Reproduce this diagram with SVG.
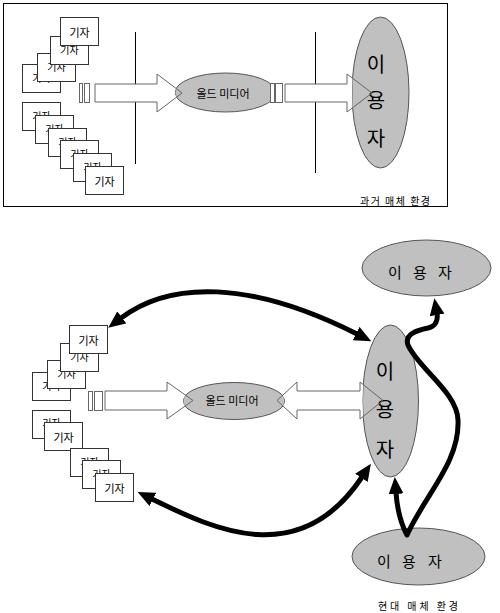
<svg xmlns="http://www.w3.org/2000/svg" width="500" height="613" viewBox="0 0 500 613">
<style>
.frame{fill:none;stroke:#000;stroke-width:1}
.card rect{fill:#fff;stroke:#333;stroke-width:1}
.card text{font-family:"Noto Sans CJK KR","Liberation Sans",sans-serif;font-size:11px;text-anchor:middle;dominant-baseline:central;fill:#000}
.card text.hid{font-size:10px}
.ell{fill:#c0c0c0;stroke:#555;stroke-width:1}
.lbl{font-family:"Noto Sans CJK KR","Liberation Sans",sans-serif;font-size:10px;fill:#000;text-anchor:middle;dominant-baseline:central}
.om{font-size:11px}
.big{font-size:20px}
.user{font-size:15px;text-anchor:start}
.bf{fill:#fff;stroke:none}
.bl{fill:none;stroke:#666;stroke-width:1}
.bar{fill:#fff;stroke:#666;stroke-width:1}
.curve{fill:none;stroke:#000;stroke-width:5;stroke-linejoin:round;marker-start:url(#ah);marker-end:url(#ah)}
.sep{stroke:#000;stroke-width:1}
</style>
<defs>
<marker id="ah" viewBox="0 0 17 15" markerWidth="17" markerHeight="15" refX="1" refY="7.5" orient="auto-start-reverse" markerUnits="userSpaceOnUse"><path d="M0,0 L17,7.5 L0,15 z" fill="#000"/></marker>
<mask id="m" maskUnits="userSpaceOnUse" x="0" y="0" width="500" height="613">
<rect width="500" height="613" fill="#fff"/>
<ellipse cx="225.5" cy="92.5" rx="50.5" ry="19.5" fill="#000"/>
<ellipse cx="380.5" cy="92.5" rx="28.5" ry="75.5" fill="#000"/>
<ellipse cx="234" cy="401" rx="51" ry="18.5" fill="#000"/>
<ellipse cx="390.5" cy="401" rx="28" ry="76" fill="#000"/>
</mask>
<polygon id="a1" points="95,84 157,84 157,74 182,93 157,112 157,102 95,102"/>
<polygon id="a2" points="285,84 347,84 347,74 372,93 347,112 347,102 285,102"/>
<polygon id="a3" points="105,391 167,391 167,382 193,400.5 167,419 167,410 105,410"/>
<polygon id="a4" points="277,400.5 297,382 297,391 360,391 360,382 383,400.5 360,419 360,410 297,410 297,419"/>
</defs>

<rect class="frame" x="3.5" y="3.5" width="444" height="203"/>
<line class="sep" x1="135.5" y1="32" x2="135.5" y2="164"/>
<line class="sep" x1="315.5" y1="32" x2="315.5" y2="173"/>

<!-- top panel cards -->
<g id="t-card-d" class="card"><rect x="22.5" y="64.5" width="38" height="28"/><text class="hid" x="41.5" y="77">기자</text></g>
<g id="t-card-c" class="card"><rect x="37.5" y="53.5" width="38" height="28"/><text class="hid" x="56.5" y="66">기자</text></g>
<g id="t-card-b" class="card"><rect x="50.5" y="36.5" width="38" height="28"/><text class="hid" x="69.5" y="49">기자</text></g>
<g id="t-card-a" class="card"><rect x="60.5" y="17.5" width="38" height="28"/><text x="79.5" y="31.5">기자</text></g>
<g id="t-card-e" class="card"><rect x="22.5" y="102.5" width="38" height="28"/><text class="hid" x="41.5" y="115">기자</text></g>
<g id="t-card-f" class="card"><rect x="35.5" y="115.5" width="38" height="28"/><text class="hid" x="54.5" y="128">기자</text></g>
<g id="t-card-g" class="card"><rect x="48.5" y="128.5" width="38" height="28"/><text class="hid" x="67.5" y="141">기자</text></g>
<g id="t-card-h" class="card"><rect x="60.5" y="140.5" width="38" height="28"/><text class="hid" x="79.5" y="153">기자</text></g>
<g id="t-card-i" class="card"><rect x="73.5" y="153.5" width="38" height="28"/><text class="hid" x="92.5" y="166">기자</text></g>
<g id="t-card-j" class="card"><rect x="85.5" y="166.5" width="38" height="28"/><text x="104.5" y="180.5">기자</text></g>

<g id="t-oldmedia"><ellipse class="ell" cx="225.5" cy="92.5" rx="50.5" ry="19.5"/><text class="lbl om" x="223" y="93">올드 미디어</text></g>
<g id="t-user"><ellipse class="ell" cx="380.5" cy="92.5" rx="28.5" ry="75.5"/><text class="lbl big"><tspan x="376" y="63">이</tspan><tspan x="376" y="99">용</tspan><tspan x="376" y="137">자</tspan></text></g>
<g id="t-label"><text class="lbl" x="395" y="200" textLength="70" lengthAdjust="spacing">과거 매체 환경</text></g>

<!-- bottom panel cards -->
<g id="b-card-n" class="card"><rect x="32.5" y="372.5" width="38" height="28"/><text class="hid" x="51.5" y="385">기자</text></g>
<g id="b-card-m" class="card"><rect x="47.5" y="360.5" width="38" height="28"/><text class="hid" x="66.5" y="373">기자</text></g>
<g id="b-card-l" class="card"><rect x="60.5" y="343.5" width="38" height="28"/><text class="hid" x="79.5" y="356">기자</text></g>
<g id="b-card-k" class="card"><rect x="69.5" y="325.5" width="38" height="28"/><text x="88.5" y="339.5">기자</text></g>
<g id="b-card-o" class="card"><rect x="32.5" y="410.5" width="38" height="28"/><text class="hid" x="51.5" y="422">기자</text></g>
<g id="b-card-p" class="card"><rect x="44.5" y="422.5" width="38" height="28"/><text x="63.5" y="436.5">기자</text></g>
<g id="b-card-q" class="card"><rect x="70.5" y="448.5" width="38" height="28"/><text class="hid" x="89.5" y="461">기자</text></g>
<g id="b-card-r" class="card"><rect x="82.5" y="460.5" width="38" height="28"/><text class="hid" x="101.5" y="473">기자</text></g>
<g id="b-card-s" class="card"><rect x="95.5" y="473.5" width="38" height="28"/><text x="114.5" y="487.5">기자</text></g>

<g id="b-oldmedia"><ellipse class="ell" cx="234" cy="401" rx="51" ry="18.5"/><text class="lbl om" x="232" y="400">올드 미디어</text></g>
<g id="b-user"><ellipse class="ell" cx="390.5" cy="401" rx="28" ry="76"/><text class="lbl big"><tspan x="385" y="370">이</tspan><tspan x="385" y="408">용</tspan><tspan x="385" y="448">자</tspan></text></g>
<g id="b-user-top"><ellipse class="ell" cx="426.5" cy="268" rx="64.5" ry="28"/><text class="lbl user" x="388 402 413 427 438" y="271">이 용 자</text></g>
<g id="b-user-bottom"><ellipse class="ell" cx="418.5" cy="556.5" rx="66.5" ry="28.5"/><text class="lbl user" x="377 391 402 416 428" y="560">이 용 자</text></g>
<g id="b-label"><text class="lbl" x="418" y="605" font-size="11" textLength="80" lengthAdjust="spacing">현대 매체 환경</text></g>

<g id="connectors">
<rect class="bar" x="79.5" y="83.5" width="3" height="19"/>
<rect class="bar" x="84.5" y="83.5" width="5" height="19"/>
<use href="#a1" class="bf" mask="url(#m)"/><use href="#a1" class="bl"/>
<rect class="bar" x="270.5" y="83.5" width="4" height="19"/>
<rect class="bar" x="275.5" y="83.5" width="7" height="19"/>
<use href="#a2" class="bf" mask="url(#m)"/><use href="#a2" class="bl"/>
<rect class="bar" x="88.5" y="391.5" width="4" height="19"/>
<rect class="bar" x="94.5" y="391.5" width="8" height="19"/>
<use href="#a3" class="bf" mask="url(#m)"/><use href="#a3" class="bl"/>
<use href="#a4" class="bf" mask="url(#m)"/><use href="#a4" class="bl"/>
<path class="curve" d="M121,318 C170,281 250,280 357,334"/>
<path class="curve" d="M152,499 C215,530 300,570 362,477"/>
<path class="curve" d="M396,493 C397,506 400,522 407,535 C425,495 460,462 458,420 C457,392 418,368 408,345 C404,334 418,330 428,328 C436,326 438,320 437,314"/>
</g>
</svg>
